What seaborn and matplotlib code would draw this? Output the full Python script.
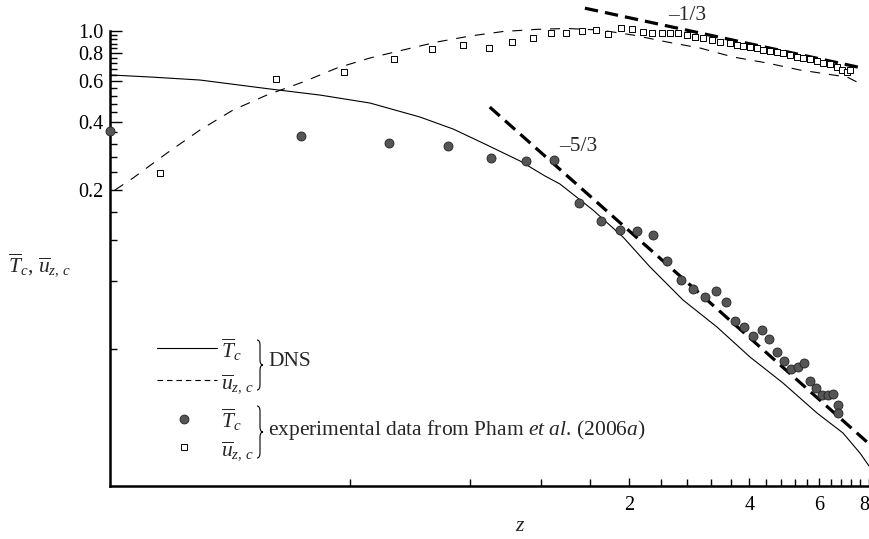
import numpy as np
import pandas as pd
import matplotlib
matplotlib.use("Agg")
import matplotlib.pyplot as plt
import seaborn as sns
from matplotlib.path import Path
from matplotlib.patches import PathPatch
from matplotlib.lines import Line2D
from matplotlib.ticker import FixedLocator, FixedFormatter, NullFormatter

# ---------------- data ----------------
dns_T_z = [0.1, 0.1259, 0.168, 0.252, 0.336, 0.448, 0.598, 0.724, 0.881, 1.066, 1.231,
           1.342, 1.624, 1.931, 2.257, 2.730, 3.321, 4.018, 4.862, 5.914, 6.873, 7.58, 7.99]
dns_T = [0.641, 0.628, 0.609, 0.556, 0.523, 0.4826, 0.4188, 0.371, 0.3154, 0.2683, 0.2305,
         0.2126, 0.1633, 0.1243, 0.0918, 0.0657, 0.050, 0.0369, 0.02836, 0.02094, 0.0171, 0.01396, 0.01224]

dns_u_z = [0.1029, 0.1142, 0.139, 0.168, 0.2034, 0.2474, 0.3046, 0.3706, 0.448, 0.5423, 0.6599,
           0.7985, 0.9661, 1.175, 1.397, 1.691, 2.046, 2.489, 3.011, 3.642, 4.432, 5.362, 6.486,
           7.033, 7.713]
dns_u = [0.200, 0.2258, 0.2909, 0.367, 0.4494, 0.5232, 0.5968, 0.6878, 0.7608, 0.825, 0.8948,
         0.9506, 0.995, 1.017, 1.026, 1.010, 0.960, 0.895, 0.842, 0.769, 0.7236, 0.674, 0.641,
         0.628, 0.579]

exp_T_z = [0.1, 0.3006, 0.5012, 0.7022, 0.900, 1.101, 1.296, 1.497, 1.701, 1.897, 2.093, 2.296,
           2.489, 2.698, 2.892, 3.099, 3.303, 3.499, 3.685, 3.882, 4.089, 4.307, 4.485, 4.697,
           4.891, 5.093, 5.302, 5.489, 5.683, 5.883, 6.090, 6.304, 6.486, 6.676, 6.676]
exp_T = [0.3634, 0.3455, 0.3228, 0.3131, 0.2773, 0.2683, 0.271, 0.1754, 0.1462, 0.1334, 0.1321,
         0.1269, 0.0975, 0.0804, 0.0734, 0.0677, 0.0720, 0.0644, 0.0531, 0.050, 0.0456, 0.0485,
         0.0443, 0.0388, 0.0354, 0.0327, 0.0333, 0.0347, 0.0289, 0.0270, 0.0251, 0.0251, 0.0254,
         0.0227, 0.0209]

exp_u_z = [0.1335, 0.2607, 0.3859, 0.514, 0.6401, 0.7668, 0.8913, 1.0174, 1.1485, 1.272, 1.389,
           1.524, 1.652, 1.771, 1.909, 2.034, 2.167, 2.283, 2.418, 2.532, 2.652, 2.793, 2.926,
           3.064, 3.227, 3.379, 3.580, 3.727, 3.859, 4.018, 4.184, 4.331, 4.511, 4.697, 4.862,
           5.062, 5.272, 5.457, 5.683, 5.914, 6.124, 6.376, 6.637, 6.833, 7.033, 7.156]
exp_u = [0.2376, 0.6152, 0.6583, 0.751, 0.8335, 0.868, 0.8394, 0.8948, 0.9344, 0.977, 0.977,
         1.000, 1.010, 0.970, 1.031, 1.020, 0.990, 0.980, 0.980, 0.977, 0.977, 0.960, 0.944,
         0.929, 0.913, 0.897, 0.883, 0.868, 0.859, 0.853, 0.839, 0.825, 0.819, 0.811, 0.803,
         0.784, 0.771, 0.759, 0.751, 0.738, 0.726, 0.716, 0.697, 0.674, 0.663, 0.674]

slope53_z = [0.895, 7.9]
slope53_y = [0.463, 0.0156]
slope13_z = [1.55, 7.67]
slope13_y = [1.26, 0.688]

x_major = [2, 4, 6, 8]
x_labels = ["2", "4", "6", "8"]
y_major = [0.2, 0.4, 0.6, 0.8, 1.0]
y_labels = ["0.2", "0.4", "0.6", "0.8", "1.0"]

# ---------------- style ----------------
sns.set_theme(style="ticks")
SERIF = ["Liberation Serif", "DejaVu Serif"]
plt.rcParams["font.family"] = SERIF
plt.rcParams["mathtext.fontset"] = "custom"
plt.rcParams["mathtext.rm"] = "Liberation Serif"
plt.rcParams["mathtext.it"] = "Liberation Serif:italic"
plt.rcParams["mathtext.bf"] = "Liberation Serif:bold"
plt.rcParams["mathtext.fallback"] = "stix"

W, H = 869, 539
fig = plt.figure(figsize=(W / 100, H / 100), dpi=100)
fig.patch.set_facecolor("white")
ax = fig.add_axes([110 / W, 1 - 486 / H, 759.3 / W, (486 - 5.1) / H])
ax.set_facecolor("white")
ax.set_xscale("log")
ax.set_yscale("log")

df_T = pd.DataFrame({"z": dns_T_z, "v": dns_T})
df_u = pd.DataFrame({"z": dns_u_z, "v": dns_u})
sns.lineplot(data=df_T, x="z", y="v", ax=ax, color="black", lw=0.8, sort=False, estimator=None)
sns.lineplot(data=df_u, x="z", y="v", ax=ax, color="black", lw=0.8, sort=False, estimator=None,
             linestyle=(0, (9, 8)))

sns.lineplot(x=slope53_z, y=slope53_y, ax=ax, color="black", lw=2.3, sort=False,
             estimator=None, linestyle=(0, (4.2, 2.2)))
sns.lineplot(x=slope13_z, y=slope13_y, ax=ax, color="black", lw=2.3, sort=False,
             estimator=None, linestyle=(0, (4.2, 2.2)))
for ln in ax.get_lines():
    ln.set_clip_on(False)

sns.scatterplot(x=exp_T_z, y=exp_T, ax=ax, marker="o", s=42, color="#555555",
                edgecolor="#222222", linewidth=0.6, clip_on=False, zorder=3)
sns.scatterplot(x=exp_u_z, y=exp_u, ax=ax, marker="s", s=16, color="white",
                edgecolor="black", linewidth=0.7, clip_on=False, zorder=3)

ax.set_xlim(0.1, 8.0)
ax.set_ylim(0.01, 1.3)

ax.text(1.49, 0.312, "\u20135/3", fontsize=15.5, ha="center", va="center", family=SERIF)
ax.text(2.79, 1.176, "\u20131/3", fontsize=15.5, ha="center", va="center", family=SERIF)

# spines
ax.spines["top"].set_visible(False)
ax.spines["right"].set_visible(False)
for s in ("left", "bottom"):
    ax.spines[s].set_linewidth(1.8)
    ax.spines[s].set_color("black")
ax.spines["left"].set_bounds(0.01, 1.0)

# ticks
x_minor = [v for v in np.round(np.arange(0.4, 8.01, 0.4), 2) if v not in x_major]
y_minor = [v for v in np.round(np.arange(0.04, 1.001, 0.04), 2) if v not in (0.2, 0.4, 0.6, 0.8, 1.0)]
ax.xaxis.set_major_locator(FixedLocator(x_major))
ax.xaxis.set_major_formatter(FixedFormatter(x_labels))
ax.xaxis.set_minor_locator(FixedLocator(x_minor))
ax.xaxis.set_minor_formatter(NullFormatter())
ax.yaxis.set_major_locator(FixedLocator(y_major))
ax.yaxis.set_major_formatter(FixedFormatter(y_labels))
ax.yaxis.set_minor_locator(FixedLocator(y_minor))
ax.yaxis.set_minor_formatter(NullFormatter())
ax.tick_params(which="both", direction="in", color="black", width=1.0, labelsize=14.5,
               labelcolor="black")
ax.tick_params(axis="y", which="major", length=8.5, pad=5)
ax.tick_params(axis="y", which="minor", length=5)
ax.tick_params(axis="x", which="major", length=6, pad=7)
ax.tick_params(axis="x", which="minor", length=5)
for lbl in ax.get_xticklabels() + ax.get_yticklabels():
    lbl.set_fontfamily(SERIF)
# keep the last x label ("8") inside the canvas edge
ax.get_xticklabels()[-1].set_horizontalalignment("right")

ax.set_xlabel("$z$", fontsize=15.5)
ax.xaxis.set_label_coords((520 - 110) / 759.3, (486 - 527) / 481, transform=ax.transAxes)
ax.xaxis.label.set_va("center")
ax.set_ylabel(r"$\overline{T}_c$, $\overline{u}_{z,\,c}$", fontsize=15.5, rotation=0,
              ha="left", va="center")
ax.yaxis.set_label_coords((8 - 110) / 759.3, (486 - 265) / 481, transform=ax.transAxes)


# ---------------- hand-made legend ----------------
def P(x, y):
    return x / W, 1 - y / H


def hline(x0, x1, y, **kw):
    (a, b), (c, _) = P(x0, y), P(x1, y)
    fig.add_artist(Line2D([a, c], [b, b], transform=fig.transFigure, **kw))


def brace(x, ytop, ybot, w=6, r=5):
    ym = (ytop + ybot) / 2
    pts = [(x, ytop), (x + w / 2, ytop), (x + w / 2, ytop + r),
           (x + w / 2, ym - r),
           (x + w / 2, ym), (x + w, ym),
           (x + w / 2, ym), (x + w / 2, ym + r),
           (x + w / 2, ybot - r),
           (x + w / 2, ybot), (x, ybot)]
    codes = [Path.MOVETO, Path.CURVE3, Path.CURVE3, Path.LINETO,
             Path.CURVE3, Path.CURVE3, Path.CURVE3, Path.CURVE3,
             Path.LINETO, Path.CURVE3, Path.CURVE3]
    path = Path([P(*p) for p in pts], codes)
    fig.add_artist(PathPatch(path, transform=fig.transFigure, fill=False, lw=0.8,
                             edgecolor="black"))


fs = 15.5
hline(157, 217, 348, color="black", lw=0.8)
hline(157, 217, 380, color="black", lw=0.8, linestyle=(0, (5, 3.5)))
fig.text(*P(221, 350), r"$\overline{T}_c$", fontsize=fs, ha="left", va="center")
fig.text(*P(221, 384), r"$\overline{u}_{z,\,c}$", fontsize=fs, ha="left", va="center")
brace(257, 340, 390)
fig.text(*P(268, 362), "DNS", fontsize=fs, ha="left", va="center", family=SERIF)

cx, cy = P(184, 419)
fig.add_artist(Line2D([cx], [cy], transform=fig.transFigure, marker="o", markersize=6.4,
                      markerfacecolor="#555555", markeredgecolor="#222222",
                      markeredgewidth=0.6, linestyle="none"))
sx, sy = P(184, 447)
fig.add_artist(Line2D([sx], [sy], transform=fig.transFigure, marker="s", markersize=4,
                      markerfacecolor="white", markeredgecolor="black",
                      markeredgewidth=0.7, linestyle="none"))
fig.text(*P(221, 420), r"$\overline{T}_c$", fontsize=fs, ha="left", va="center")
fig.text(*P(221, 451), r"$\overline{u}_{z,\,c}$", fontsize=fs, ha="left", va="center")
brace(257, 406, 458)
fig.text(*P(268, 430), r"experimental data from Pham $\mathit{et\ al}$. (2006$\mathit{a}$)",
         fontsize=fs, ha="left", va="center", family=SERIF)

fig.savefig("out.png", dpi=100, facecolor="white")
